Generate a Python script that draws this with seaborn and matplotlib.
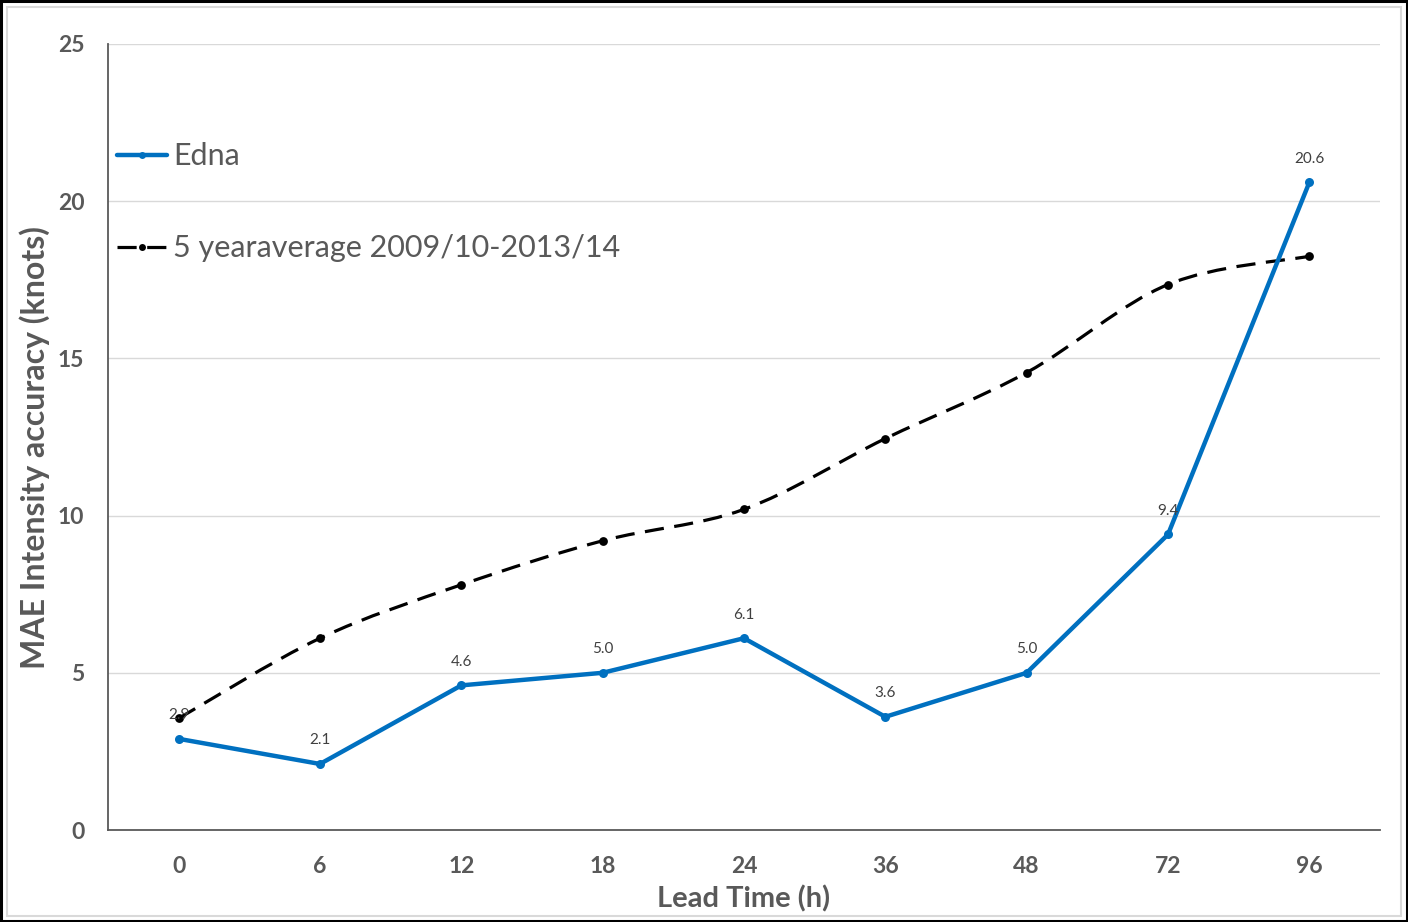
import numpy as np
import pandas as pd
import matplotlib
matplotlib.use("Agg")
import matplotlib.pyplot as plt
import seaborn as sns
from matplotlib.path import Path
from matplotlib.patches import PathPatch, Rectangle
from matplotlib.lines import Line2D

# Forecast lead times (hours) and mean absolute intensity errors (knots)
lead_times = ["0", "6", "12", "18", "24", "36", "48", "72", "96"]
edna_mae = [2.9, 2.1, 4.6, 5.0, 6.1, 3.6, 5.0, 9.4, 20.6]
five_year_mae = [3.55, 6.1, 7.8, 9.2, 10.2, 12.45, 14.55, 17.35, 18.25]
edna_name = "Edna"
avg_name = "5 yearaverage 2009/10-2013/14"
y_ticks = [0, 5, 10, 15, 20, 25]

BLUE = "#0070C0"
GRAY_TXT = "#595959"
AXIS_COL = "#595959"

sns.set_theme(style="white")
plt.rcParams['font.family'] = ['Lato', 'DejaVu Sans']

W, H = 1408, 922
fig = plt.figure(figsize=(W / 100, H / 100), dpi=100)
fig.patch.set_facecolor("white")
ax = fig.add_axes([108 / W, 1 - 830 / H, (1380 - 108) / W, (830 - 44) / H])

df = pd.DataFrame({"lead": lead_times, "edna": edna_mae, "avg": five_year_mae})
pos = np.arange(len(lead_times))

# Smoothed dashed curve through the 5-year average points (Catmull-Rom as cubic Beziers)
pts = np.column_stack([pos, df["avg"].to_numpy()])
verts = [tuple(pts[0])]
codes = [Path.MOVETO]
n = len(pts)
for i in range(n - 1):
    p0 = pts[i - 1] if i > 0 else pts[i]
    p1 = pts[i]
    p2 = pts[i + 1]
    p3 = pts[i + 2] if i + 2 < n else pts[i + 1]
    c1 = p1 + (p2 - p0) / 6.0
    c2 = p2 - (p3 - p1) / 6.0
    verts += [tuple(c1), tuple(c2), tuple(p2)]
    codes += [Path.CURVE4] * 3
curve = PathPatch(Path(verts, codes), facecolor="none", edgecolor="black",
                  linewidth=2.3, linestyle=(0, (6, 3.3)), capstyle="butt", zorder=3)
ax.add_patch(curve)
sns.scatterplot(x=pos, y=df["avg"], ax=ax, color="black", s=40, edgecolor="black",
                linewidth=0, zorder=4)

# Edna line
sns.lineplot(x=pos, y=df["edna"], ax=ax, color=BLUE, linewidth=3.2, marker="o",
             markersize=6.5, markeredgewidth=0, sort=False, zorder=5)

for x, v in zip(pos, edna_mae):
    ax.annotate(f"{v:.1f}", (x, v), xytext=(0, 17), textcoords="offset points",
                ha="center", va="center", fontsize=11, color="#404040", zorder=6)

ax.set_xlim(-0.5, len(lead_times) - 0.5)
ax.set_ylim(0, 25)
ax.set_yticks(y_ticks)
ax.set_yticklabels([str(t) for t in y_ticks])
ax.set_xticks(pos)
ax.set_xticklabels(lead_times)
ax.set_xticks(np.arange(-0.5, len(lead_times)), minor=True)
ax.tick_params(axis="x", which="major", length=0, pad=19, labelsize=16.5, labelcolor=GRAY_TXT)
ax.tick_params(axis="x", which="minor", direction="in", length=6, width=1.2, color=AXIS_COL)
ax.tick_params(axis="y", length=0, pad=17, labelsize=16.5, labelcolor=GRAY_TXT)
for lab in ax.get_xticklabels() + ax.get_yticklabels():
    lab.set_fontweight("bold")

ax.grid(axis="y", color="#D9D9D9", linewidth=1)
ax.set_axisbelow(True)
for side in ["top", "right"]:
    ax.spines[side].set_visible(False)
for side in ["left", "bottom"]:
    ax.spines[side].set_color(AXIS_COL)
    ax.spines[side].set_linewidth(1.3)

ax.set_xlabel("Lead Time (h)", fontsize=21, fontweight="bold", color=GRAY_TXT)
ax.set_ylabel("MAE Intensity accuracy (knots)", fontsize=23, fontweight="bold",
              color=GRAY_TXT)
ax.xaxis.set_label_coords(0.5, (830 - 885) / 786)
ax.yaxis.set_label_coords((50 - 108) / 1272, 0.487)

handles = [
    Line2D([], [], color=BLUE, linewidth=3.2, marker="o", markersize=5, markeredgewidth=0),
    Line2D([], [], color="black", linewidth=2.3, linestyle=(0, (6, 3.3)), marker="o",
           markersize=5, markeredgewidth=0),
]
leg = ax.legend(handles, [edna_name, avg_name], loc="upper left",
                bbox_to_anchor=(0.007, 0.875), frameon=False, fontsize=22,
                handlelength=1.65, handletextpad=0.2, labelspacing=2.1, borderpad=0,
                borderaxespad=0)
for t in leg.get_texts():
    t.set_color(GRAY_TXT)

# Chart frame
fig.patches.append(Rectangle((1 / W, 1 / H), (W - 2) / W, (H - 2) / H, transform=fig.transFigure,
                             fill=False, edgecolor="black", linewidth=2.2))
fig.patches.append(Rectangle((7 / W, 6 / H), (W - 14) / W, (H - 13) / H, transform=fig.transFigure,
                             fill=False, edgecolor="#D9D9D9", linewidth=1.5))

fig.savefig("out.png", dpi=100)
